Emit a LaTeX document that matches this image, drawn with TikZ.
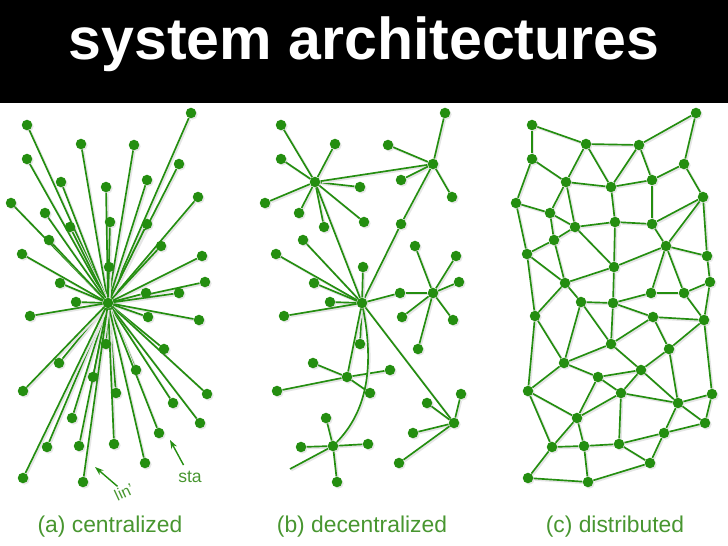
\documentclass[tikz,border=0pt]{standalone}
\usepackage{fontspec}
\setmainfont{Liberation Sans}
\usetikzlibrary{arrows.meta, backgrounds, shadows}

\definecolor{netgreen}{RGB}{36,142,16}
\definecolor{capgreen}{RGB}{72,150,48}

% Station positions shared by all three networks (x/y in px of one panel)
\newcommand\sitelist{27/125, 191/113, 81/144, 134/145, 27/159, 179/164, 61/182,
    106/187, 147/180, 11/203, 45/213, 198/197, 70/227, 110/222, 147/224,
    49/240, 161/246, 22/254, 202/256, 109/267, 60/283, 205/282, 146/293,
    179/293, 76/302, 108/303, 30/316, 199/320, 148/317, 106/344, 164/349,
    59/363, 136/370, 93/377, 23/391, 116/393, 207/394, 173/403, 72/418,
    200/423, 159/433, 47/447, 79/446, 114/444, 145/463, 23/478, 83/482}

% Links of the distributed mesh
\newcommand\meshlinks{1/3, 1/5, 3/4, 4/2, 2/6, 3/7, 3/8, 4/8, 4/9, 5/7, 5/10,
    7/8, 8/9, 6/9, 6/12, 7/11, 7/13, 8/14, 9/15, 10/11, 10/18, 11/13, 11/16,
    13/14, 14/15, 15/12, 12/17, 12/19, 13/16, 13/20, 14/20, 15/17, 16/18,
    16/21, 18/21, 18/27, 20/17, 20/21, 20/26, 17/23, 17/24, 17/19, 19/22,
    21/25, 21/27, 25/26, 23/26, 23/24, 24/22, 22/28, 24/28, 25/30, 25/32,
    26/30, 26/29, 29/28, 29/30, 29/31, 28/31, 28/37, 30/32, 30/33, 31/33,
    31/38, 32/34, 32/35, 27/32, 27/35, 34/33, 34/36, 34/39, 33/36, 33/38,
    36/38, 36/44, 36/39, 35/39, 35/42, 38/37, 38/40, 37/40, 38/41, 40/41,
    39/42, 39/43, 42/43, 43/44, 42/46, 43/47, 46/47, 44/45, 41/45, 45/47, 44/41}

\begin{document}
\begin{tikzpicture}[
    x=0.02cm, y=-0.02cm,
    % Station dot
    site/.style={
        circle,
        fill=netgreen,
        inner sep=0pt,
        minimum size=0.21cm,
        drop shadow={shadow xshift=0.8pt, shadow yshift=-0.8pt, opacity=.2}
    },
    % Link line
    link/.style={
        draw=netgreen,
        line width=0.95pt,
        preaction={draw=black!10, line width=1.2pt,
            transform canvas={shift={(0.8pt,-0.8pt)}}}
    },
    % Panel captions
    caption/.style={
        font=\fontsize{13}{15}\selectfont,
        text=capgreen
    },
    % Pointer arrows
    pointer/.style={
        -{Stealth[length=5pt, width=3.5pt]},
        draw=netgreen,
        line width=0.8pt
    }
]
\useasboundingbox (0,0) rectangle (728,546);

% === Title bar ===
\fill[black] (0,0) rectangle (728,103);
\node[anchor=base, text=white, font=\bfseries\fontsize{33.6}{40}\selectfont]
    (title) at (364,60) {system architectures};

% === (a) centralized ===
\begin{scope}[name prefix=a-]
    \foreach \x/\y [count=\i] in \sitelist {
        \node[site] (\i) at (\x,\y) {};
    }
    \begin{scope}[on background layer]
        \foreach \j in {1,...,25,27,28,...,47}
            \draw[link] (26) -- (\j);
    \end{scope}
    \node[caption] (cap) at (110,527) {(a) centralized};

    \node[text=capgreen, font=\fontsize{9}{10}\selectfont, rotate=25,
        inner sep=1pt] (lintag) at (124,492) {lin'};
    \node[text=capgreen, font=\fontsize{10}{11}\selectfont]
        (statag) at (190,477) {sta};
    \coordinate (linhead) at (95,467);
    \coordinate (stahead) at (170,440);
    \draw[pointer] (lintag) -- (linhead);
    \draw[pointer] (statag) -- (stahead);
\end{scope}

% === (b) decentralized ===
\begin{scope}[shift={(254,0)}, name prefix=b-]
    \foreach \x/\y [count=\i] in \sitelist {
        \ifnum\i=46\else \node[site] (\i) at (\x,\y) {}; \fi
    }
    \coordinate (stub) at (36,469);
    \begin{scope}[on background layer]
        \foreach \j in {1,3,5,10,11,13,8,14,6,26}
            \draw[link] (7) -- (\j);
        \foreach \j in {2,4,9,12,15}
            \draw[link] (6) -- (\j);
        \foreach \j in {15,16,18,20,21,25,27,30,23,34,40}
            \draw[link] (26) -- (\j);
        \foreach \j in {17,19,22,29,28,31,23}
            \draw[link] (24) -- (\j);
        \foreach \j in {32,33,35,36}
            \draw[link] (34) -- (\j);
        \foreach \j in {39,42,44,47,stub}
            \draw[link] (43) -- (\j);
        \foreach \j in {38,37,41,45}
            \draw[link] (40) -- (\j);
        \draw[link] (26) .. controls (120,365) and (114,410) .. (43);
    \end{scope}
    \node[caption] (cap) at (108,527) {(b) decentralized};
\end{scope}

% === (c) distributed ===
\begin{scope}[shift={(505,0)}, name prefix=c-]
    \foreach \x/\y [count=\i] in \sitelist {
        \node[site] (\i) at (\x,\y) {};
    }
    \begin{scope}[on background layer]
        \foreach \u/\v in \meshlinks
            \draw[link] (\u) -- (\v);
    \end{scope}
    \node[caption] (cap) at (110,527) {(c) distributed};
\end{scope}

\end{tikzpicture}
\end{document}
